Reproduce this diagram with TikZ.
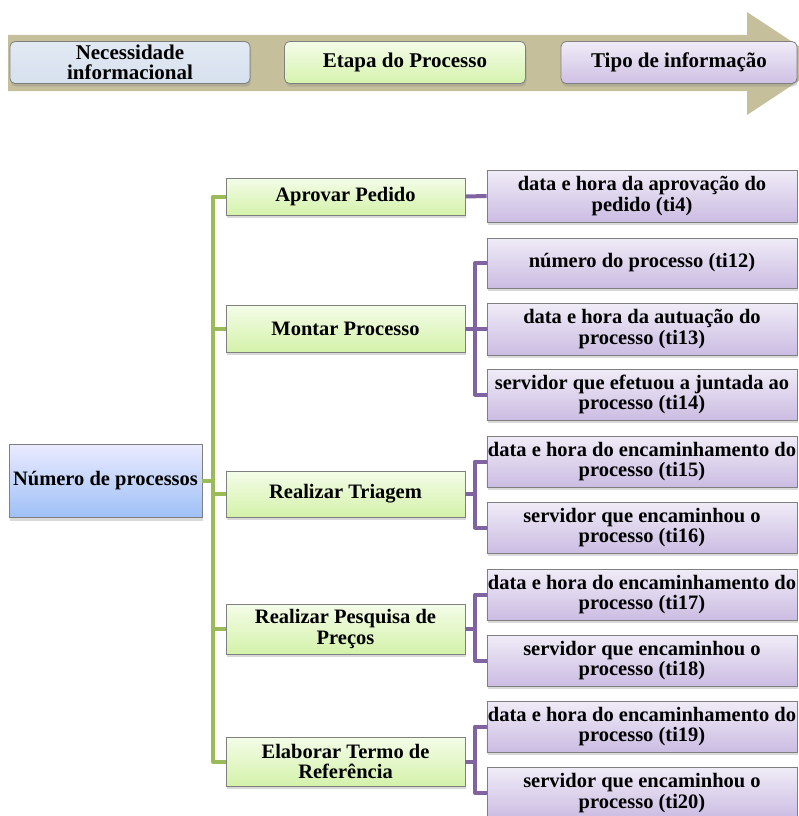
\documentclass[tikz,border=0pt]{standalone}
\usepackage{fontspec}
\setmainfont{Liberation Serif}
\usetikzlibrary{shadows}

\definecolor{band}{HTML}{C6BF9C}
\definecolor{greenline}{HTML}{9BBB59}
\definecolor{purpleline}{HTML}{8064A2}
\definecolor{boxedge}{HTML}{7F7F7F}

\tikzset{
  basebox/.style={draw=boxedge, line width=0.8pt, align=center, inner sep=1pt,
    font=\bfseries\fontsize{20.5}{20.5}\selectfont,
    drop shadow={opacity=0.3, shadow xshift=1pt, shadow yshift=-3pt}},
  rootbox/.style={basebox, top color=blue!8!white, bottom color={rgb,255:red,158;green,192;blue,246},
    minimum width=193pt, minimum height=73pt},
  stagebox/.style={basebox, top color={rgb,255:red,244;green,252;blue,232},
    bottom color={rgb,255:red,212;green,242;blue,170}, minimum width=239pt},
  infobox/.style={basebox, top color={rgb,255:red,240;green,236;blue,247},
    bottom color={rgb,255:red,203;green,188;blue,226}, minimum width=310pt},
  headbox/.style={basebox, rounded corners=5pt, minimum height=42pt,
    font=\bfseries\fontsize{21}{20}\selectfont},
  gline/.style={draw=greenline, line width=4pt, line join=round},
  pline/.style={draw=purpleline, line width=4pt, line join=round}
}

\begin{document}
\begin{tikzpicture}[x=1pt, y=-1pt]
\useasboundingbox (0,0) rectangle (798,816);

% header band and arrow
\fill[band] (8,35) -- (747,35) -- (747,12) -- (825,63.5) -- (747,115) -- (747,91) -- (8,91) -- cycle;

\node[headbox, minimum width=240pt, top color={rgb,255:red,226;green,233;blue,243},
  bottom color={rgb,255:red,214;green,225;blue,238}] (hN) at (130,62.5) {Necessidade\\informacional};
\node[headbox, minimum width=241pt, top color={rgb,255:red,244;green,252;blue,232},
  bottom color={rgb,255:red,214;green,243;blue,174}] (hE) at (405,62.5) {Etapa do Processo};
\node[headbox, minimum width=236pt, top color={rgb,255:red,240;green,236;blue,247},
  bottom color={rgb,255:red,206;green,192;blue,228}] (hT) at (679,62.5) {Tipo de informação};

% root
\node[rootbox] (root) at (105.5,481) {Número de processos};

% process stages
\node[stagebox, minimum height=37pt] (s1) at (345.5,196.5) {Aprovar Pedido};
\node[stagebox, minimum height=47pt] (s2) at (345.5,328.5) {Montar Processo};
\node[stagebox, minimum height=46pt] (s3) at (345.5,494) {Realizar Triagem};
\node[stagebox, minimum height=50pt] (s4) at (345.5,629) {Realizar Pesquisa de\\Preços};
\node[stagebox, minimum height=49pt] (s5) at (345.5,761.5) {Elaborar Termo de\\Referência};

% information types
\node[infobox, minimum height=52pt] (i4)  at (642,196)   {data e hora da aprovação do\\pedido (ti4)};
\node[infobox, minimum height=50pt] (i12) at (642,263)   {número do processo (ti12)};
\node[infobox, minimum height=52pt] (i13) at (642,329)   {data e hora da autuação do\\processo (ti13)};
\node[infobox, minimum height=51pt] (i14) at (642,394.5) {servidor que efetuou a juntada ao\\processo (ti14)};
\node[infobox, minimum height=51pt] (i15) at (642,461.5) {data e hora do encaminhamento do\\processo (ti15)};
\node[infobox, minimum height=51pt] (i16) at (642,527.5) {servidor que encaminhou o\\processo (ti16)};
\node[infobox, minimum height=51pt] (i17) at (642,594.5) {data e hora do encaminhamento do\\processo (ti17)};
\node[infobox, minimum height=51pt] (i18) at (642,660.5) {servidor que encaminhou o\\processo (ti18)};
\node[infobox, minimum height=51pt] (i19) at (642,726.5) {data e hora do encaminhamento do\\processo (ti19)};
\node[infobox, minimum height=51pt] (i20) at (642,793)   {servidor que encaminhou o\\processo (ti20)};

% green trunk from the root to the stages
\coordinate (gx) at (213,0);
\draw[gline] (s1.west) -- (s1.west -| gx) -- (s5.west -| gx) -- (s5.west);
\foreach \s in {s2,s3,s4} \draw[gline] (\s.west) -- (\s.west -| gx);
\draw[gline] (root.east) -- (root.east -| gx);

% purple branches from the stages to the information types
\coordinate (px) at (475,0);
\draw[pline] (s1.east) -- (i4.west);
\foreach \st/\a/\b in {s2/i12/i14, s3/i15/i16, s4/i17/i18, s5/i19/i20} {
  \draw[pline] (\a.west) -- (\a.west -| px) -- (\b.west -| px) -- (\b.west);
  \draw[pline] (\st.east) -- (\st.east -| px);
}
\draw[pline] (i13.west) -- (i13.west -| px);
\end{tikzpicture}
\end{document}
